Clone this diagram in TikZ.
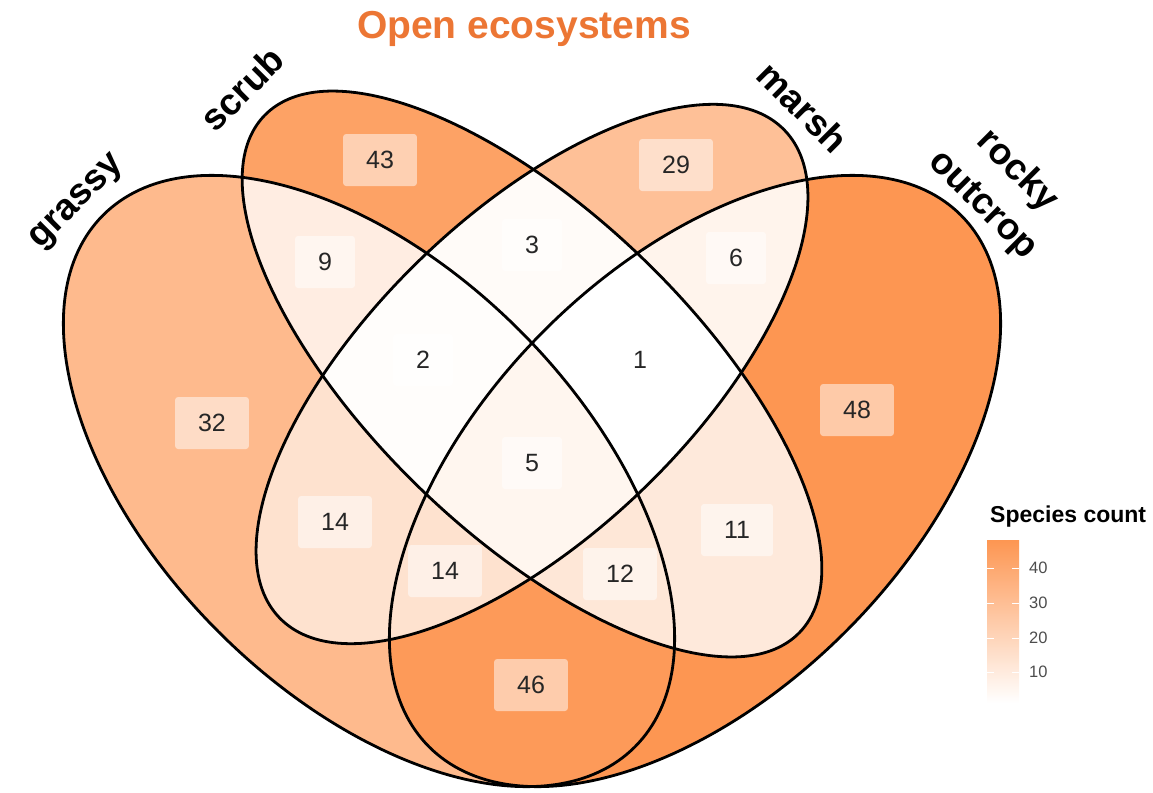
\documentclass[tikz,border=0pt]{standalone}
\usepackage{fontspec}
\setmainfont{Liberation Sans}
\usepackage{tikz}
\usepackage{xcolor}
\usetikzlibrary{positioning}

\definecolor{vennorange}{RGB}{253,150,82}
\definecolor{titleorange}{RGB}{236,118,52}
\definecolor{cornerblue}{RGB}{92,105,212}
\definecolor{ticktext}{RGB}{77,77,77}

% one clip per set
\newcommand{\clipgrassy}{\clip[rotate around={-45:(369,-481)}] (369,-481) ellipse [x radius=376, y radius=213];}
\newcommand{\clipscrub}{\clip[rotate around={-44:(532,-374)}] (532,-374) ellipse [x radius=372, y radius=160];}
\newcommand{\clipmarsh}{\clip[rotate around={44:(532,-374)}] (532,-374) ellipse [x radius=351, y radius=160];}
\newcommand{\cliprocky}{\clip[rotate around={45:(695,-481)}] (695,-481) ellipse [x radius=376, y radius=213];}
\newcommand{\paintcell}[1]{\fill[vennorange!#1!white] (0,0) rectangle (1153,-792);}

\tikzset{
  vennline/.style={draw=black, line width=2.8},
  count/.style={fill=white, fill opacity=0.5, text opacity=1, rounded corners=3,
    inner xsep=23, inner ysep=0, minimum height=52, text=black!85,
    font=\fontsize{25}{30}\selectfont},
  setlabel/.style={font=\bfseries\fontsize{37}{48}\selectfont, align=center, inner sep=0},
  ticklabel/.style={anchor=west, inner sep=0, text=ticktext, font=\fontsize{16.5}{20}\selectfont}
}

\begin{document}
\begin{tikzpicture}[x=1pt, y=1pt]
  \useasboundingbox (0,0) rectangle (1153,-792);

  \fill[cornerblue] (0,0) -- (29,0) .. controls (17,11) .. (0,24) -- cycle;

  % single sets
  \begin{scope}\clipgrassy \paintcell{66}\end{scope}
  \begin{scope}\clipscrub \paintcell{89}\end{scope}
  \begin{scope}\clipmarsh \paintcell{60}\end{scope}
  \begin{scope}\cliprocky \paintcell{100}\end{scope}
  % pairs
  \begin{scope}\clipgrassy\clipscrub \paintcell{17}\end{scope}
  \begin{scope}\clipgrassy\clipmarsh \paintcell{28}\end{scope}
  \begin{scope}\clipgrassy\cliprocky \paintcell{96}\end{scope}
  \begin{scope}\clipscrub\clipmarsh \paintcell{4}\end{scope}
  \begin{scope}\clipscrub\cliprocky \paintcell{21}\end{scope}
  \begin{scope}\clipmarsh\cliprocky \paintcell{11}\end{scope}
  % triples
  \begin{scope}\clipgrassy\clipscrub\clipmarsh \paintcell{2}\end{scope}
  \begin{scope}\clipgrassy\clipscrub\cliprocky \paintcell{23}\end{scope}
  \begin{scope}\clipgrassy\clipmarsh\cliprocky \paintcell{28}\end{scope}
  \begin{scope}\clipscrub\clipmarsh\cliprocky \paintcell{0}\end{scope}
  % all four
  \begin{scope}\clipgrassy\clipscrub\clipmarsh\cliprocky \paintcell{9}\end{scope}

  % outlines
  \draw[vennline, rotate around={-45:(369,-481)}] (369,-481) ellipse [x radius=376, y radius=213];
  \draw[vennline, rotate around={-44:(532,-374)}] (532,-374) ellipse [x radius=372, y radius=160];
  \draw[vennline, rotate around={44:(532,-374)}] (532,-374) ellipse [x radius=351, y radius=160];
  \draw[vennline, rotate around={45:(695,-481)}] (695,-481) ellipse [x radius=376, y radius=213];

  % counts
  \node[count] (c43) at (380,-160) {43};
  \node[count] (c29) at (676,-165) {29};
  \node[count] (c9) at (325,-262) {9};
  \node[count] (c3) at (532,-245) {3};
  \node[count] (c6) at (736,-258) {6};
  \node[count] (c2) at (423,-360) {2};
  \node[count] (c1) at (640,-360) {1};
  \node[count] (c32) at (212,-423) {32};
  \node[count] (c48) at (857,-410) {48};
  \node[count] (c5) at (532,-463) {5};
  \node[count] (c14a) at (335,-522) {14};
  \node[count] (c11) at (737,-530) {11};
  \node[count] (c14b) at (445,-571) {14};
  \node[count] (c12) at (620,-574) {12};
  \node[count] (c46) at (531,-685) {46};

  % set names
  \node[setlabel, rotate=45] (lgrassy) at (78,-203) {grassy};
  \node[setlabel, rotate=45] (lscrub) at (242,-89) {scrub};
  \node[setlabel, rotate=-45] (lmarsh) at (803,-107) {marsh};
  \node[setlabel, rotate=-45] (lrocky) at (1000,-188) {rocky\\outcrop};

  \node[font=\bfseries\fontsize{39}{46}\selectfont, text=titleorange, inner sep=0] (title) at (524,-29) {Open ecosystems};

  % legend
  \node[anchor=west, inner sep=0, font=\bfseries\fontsize{23}{28}\selectfont] (legtitle) at (990,-517) {Species count};
  \shade[bottom color=white, top color=vennorange] (987,-703) rectangle (1019,-540);
  \foreach \v/\y in {40/568, 30/603, 20/638, 10/672} {
    \draw[white, line width=1] (987,-\y) -- (994,-\y);
    \draw[white, line width=1] (1012,-\y) -- (1019,-\y);
    \node[ticklabel] (tick\v) at (1029,-\y) {\v};
  }
\end{tikzpicture}
\end{document}
